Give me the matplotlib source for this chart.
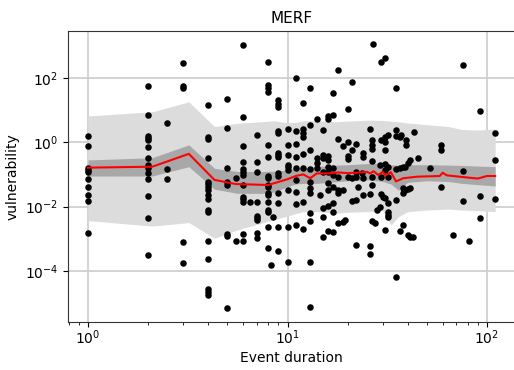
import matplotlib
matplotlib.use("Agg")
import matplotlib.pyplot as plt
import numpy as np
from matplotlib.ticker import NullLocator

# event durations (one per column of points) and log10 vulnerability of the points in that column
col_dur = [1, 2, 2.5, 3, 4, 5, 5.5, 6, 6.5, 7, 8, 8.3, 8.5, 9, 10, 11, 12, 13, 14, 14.5,
           15, 16, 17, 18, 19, 19.5, 20, 21, 22, 22.5, 23.5, 24, 25.8, 26, 26.5, 26.8,
           27.5, 28, 29, 29.5, 30, 31, 32, 35, 36.5, 37, 38, 39, 39.5, 40, 41, 42.5,
           43, 45, 52, 59, 67.5, 75.7, 81, 92, 110]
col_logv = [
    [0.19, -0.115, -0.79, -0.86, -0.93, -1.14, -1.39, -1.65, -1.84, -2.82],
    [1.75, 0.86, 0.19, 0.12, 0.07, -0.14, -0.48, -0.72, -0.80, -0.96, -1.14, -1.66, -2.35, -3.51],
    [0.61, -0.83, -1.13],
    [2.46, 1.75, 1.70, -3.12, -3.77],
    [1.17, 0.16, 0.10, -0.48, -1.23, -1.31, -1.38, -1.49, -1.64, -1.77, -2.11, -2.18, -3.07, -3.64, -4.58, -4.67, -4.76],
    [1.34, 0.45, -0.81, -1.23, -1.34, -2.87, -2.92, -5.17],
    [-1.10, -3.07],
    [3.03, 0.80, -0.115, -0.60, -0.84, -0.91, -1.02, -1.33, -1.69, -1.77, -1.85, -2.86, -3.07],
    [-1.85],
    [0.23, -0.60, -0.93, -1.85, -2.29, -2.37, -2.42, -2.84, -2.99],
    [2.49, 1.78, 1.68, 1.58, -0.08, -0.45, -1.05, -1.12, -1.33, -1.38, -1.59, -1.64, -1.85, -2.11, -2.16, -2.63, -3.28],
    [-3.83],
    [-2.34],
    [1.32, 1.19, 1.11, 0.35, 0.28, -0.32, -0.40, -0.47, -0.97, -1.04, -1.59, -1.90, -2.63, -3.39],
    [0.40, -0.08, -0.40, -0.71, -0.76, -0.87, -1.49, -2.63, -3.74],
    [2.01, 0.36, -0.06, -0.47, -0.79, -1.17, -1.54, -1.92, -2.58],
    [1.23, 0.40, 0.28, 0.17, -0.35, -0.79, -1.85, -2.70],
    [1.70, 0.54, -0.24, -0.84, -1.23, -1.43, -1.59, -2.21, -2.44, -3.72, -5.12],
    [0.72, -0.50, -0.65, -0.81],
    [-1.64],
    [0.38, -0.40, -0.50, -0.91, -2.06, -2.32, -2.94],
    [0.82, 0.72, -0.43, -0.55, -0.76, -0.91, -1.28, -1.49, -1.98, -2.76],
    [1.55, 0.85, -0.81, -1.02, -1.38, -1.90, -2.16, -2.80],
    [2.25, 0.09, -1.07, -1.49, -1.59, -2.52],
    [-0.12, -1.49, -2.47],
    [-2.42],
    [1.04, 0.02, -0.43, -0.53, -1.07],
    [1.89, -0.24, -1.12, -1.82],
    [-0.05, -0.91, -1.07, -1.80, -3.20],
    [-1.38],
    [-0.97],
    [-0.32, -0.47, -1.12, -1.64],
    [-3.23, -3.49],
    [0.40, -1.62],
    [0.07, -0.08, -0.22, -0.57, -1.07, -1.33, -2.44],
    [3.05],
    [-2.50],
    [-2.11],
    [-0.71, -2.01],
    [2.51, 0.07, -1.07, -1.62],
    [-1.69],
    [2.62, 0.17, 0.02, -0.24, -0.68, -0.86, -1.74, -2.73],
    [0.23, -0.76, -1.07, -1.90, -2.16, -2.26, -2.34],
    [1.70, 0.38, 0.20, -0.84, -1.80, -4.21],
    [0.17, -0.81, -2.76],
    [0.23],
    [-0.78, -1.43, -1.59, -2.58],
    [-0.76, -1.49],
    [0.07, -0.08],
    [-0.65, -1.46, -2.89],
    [-0.55, -1.43, -2.94],
    [-2.96],
    [0.33],
    [-0.50],
    [-0.81],
    [-0.08, -0.24, -1.38],
    [-2.89],
    [2.41, -0.89, -1.82],
    [-3.07],
    [0.98, -1.66, -2.37],
    [0.30, -0.55, -1.78],
]

# percentile bands (log10)
band_x = [1, 2.1, 3.2, 4.3, 5.6, 7.4, 8.6, 10, 11, 12, 14, 17.4, 20, 25.5, 30, 33, 36, 40, 50, 64, 75, 90, 110]
light_hi = [0.82, 0.95, 1.26, 0.49, 0.59, 0.64, 0.67, 0.61, 0.62, 0.67, 0.67, 0.64, 0.66, 0.69, 0.68,
            0.66, 0.64, 0.60, 0.55, 0.49, 0.40, 0.38, 0.41]
light_lo = [-2.44, -2.61, -2.50, -2.99, -2.73, -2.52, -2.40, -2.30, -2.22, -2.16, -2.16, -2.21, -2.18,
            -2.16, -2.12, -2.58, -2.32, -2.16, -2.11, -2.08, -2.11, -2.13, -2.16]
dark_hi = [-0.55, -0.48, -0.08, -0.81, -0.91, -0.91, -0.90, -0.86, -0.82, -0.80, -0.76, -0.71, -0.70,
           -0.66, -0.66, -0.70, -0.72, -0.70, -0.70, -0.71, -0.72, -0.74, -0.76]
dark_lo = [-1.05, -1.05, -0.76, -1.46, -1.59, -1.59, -1.55, -1.38, -1.30, -1.28, -1.28, -1.23, -1.20,
           -1.17, -1.22, -1.30, -1.49, -1.25, -1.20, -1.22, -1.28, -1.32, -1.36]

# running median (log10)
line_x = [1, 2.1, 3.2, 4.3, 5.5, 8, 10, 11, 12, 13, 14, 16, 18, 20, 22, 25, 26, 27, 28.5, 30, 31, 33,
          35, 38, 45, 58, 60, 63, 75, 90, 100, 110]
line_logv = [-0.79, -0.76, -0.36, -1.17, -1.30, -1.33, -1.15, -1.05, -1.00, -1.12, -0.97, -0.97, -0.94,
             -0.96, -0.95, -0.92, -0.97, -0.90, -1.02, -0.92, -1.03, -0.93, -1.22, -1.12, -1.07, -1.05,
             -0.95, -1.03, -1.08, -1.13, -1.05, -1.05]

dur = np.concatenate([[d] * len(v) for d, v in zip(col_dur, col_logv)])
vuln = 10 ** np.concatenate(col_logv)

fig = plt.figure(figsize=(5.14, 3.7), dpi=100)
ax = fig.add_axes([0.1323, 0.1305, 0.8705, 0.785])

bx = np.array(band_x)
ax.fill_between(bx, 10 ** np.array(light_lo), 10 ** np.array(light_hi), color="#dcdcdc", lw=0, zorder=1)
ax.fill_between(bx, 10 ** np.array(dark_lo), 10 ** np.array(dark_hi), color="#a8a8a8", lw=0, zorder=2)
ax.plot(line_x, 10 ** np.array(line_logv), color="red", lw=1.5, zorder=4)
ax.scatter(dur, vuln, s=22, color="black", zorder=3, linewidths=0)

ax.set_xscale("log")
ax.set_yscale("log")
ax.set_xlim(0.793, 139)
ax.set_ylim(2.58e-6, 2870)
ax.set_yticks([1e-4, 1e-2, 1, 1e2])
ax.yaxis.set_minor_locator(NullLocator())
ax.grid(True, which="major", color="#cccccc", lw=1.2, zorder=0)
ax.set_axisbelow(True)

for s in ax.spines.values():
    s.set_color("#333333")

ax.set_title("MERF", fontsize=11)
ax.set_xlabel("Event duration", fontsize=10, labelpad=3)
ax.set_ylabel("vulnerability", fontsize=10)
ax.tick_params(labelsize=10)
ax.tick_params(axis="x", which="major", pad=1.5)

fig.savefig("out.png", dpi=100)
